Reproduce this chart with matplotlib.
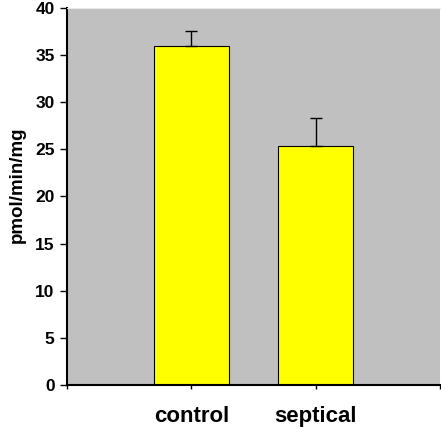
"""
Bar chart of enzyme activity (pmol/min/mg), control vs septical.
Saves out.png.
"""

import numpy as np
import matplotlib.pyplot as plt

categories = ["control", "septical"]
values = [36.0, 25.4]
errors = [1.5, 2.9]

plt.rcParams["font.family"] = ["Liberation Sans", "DejaVu Sans"]
plt.rcParams["font.weight"] = "bold"

fig = plt.figure(figsize=(4.41, 4.28), dpi=100)
ax = fig.add_axes([0.152, 0.1005, 0.846, 0.881])
ax.set_facecolor("#C0C0C0")

x = np.arange(len(categories))
ax.bar(x, values, width=0.6, color="#FFFF00", edgecolor="black", linewidth=0.8, zorder=2)
# upper error only
ax.errorbar(x, values, yerr=[np.zeros(len(errors)), errors], fmt="none",
            ecolor="black", elinewidth=1, capsize=4, capthick=1, zorder=3)

ax.set_xlim(-1, 2)
ax.set_ylim(0, 40)
ax.set_yticks(np.arange(0, 41, 5))
ax.set_xticks([-1, 0, 1, 2])
ax.set_xticklabels([""] + categories + [""], fontsize=16, fontweight="bold")
ax.tick_params(axis="y", labelsize=12.5, length=5, width=1, pad=4)
ax.tick_params(axis="x", length=3, width=1, pad=12)
for lbl in ax.get_yticklabels():
    lbl.set_fontweight("bold")

ax.spines["top"].set_color("#E8E8E8")
ax.spines["right"].set_visible(False)
ax.spines["left"].set_linewidth(1.5)
ax.spines["bottom"].set_linewidth(1.5)

ax.set_ylabel("pmol/min/mg", fontsize=13.5, fontweight="bold")
ax.yaxis.set_label_coords(-0.11, 0.53)

fig.savefig("out.png", dpi=100)
